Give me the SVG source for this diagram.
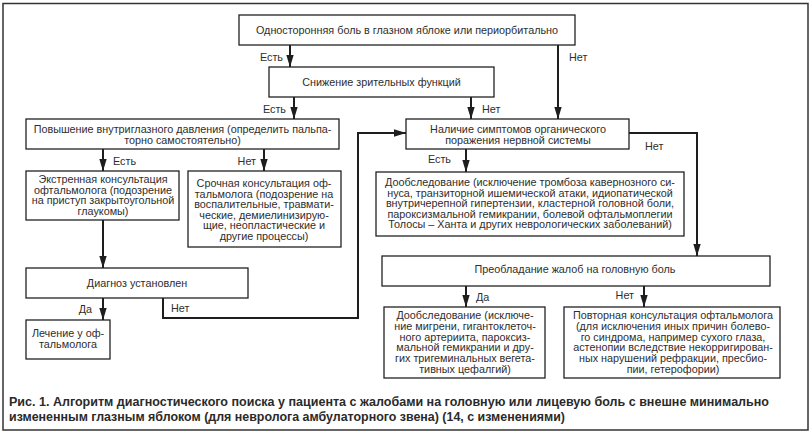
<svg xmlns="http://www.w3.org/2000/svg" width="811" height="434" viewBox="0 0 811 434">
<defs>
<style>
.bx{fill:#fff;stroke:#222;stroke-width:1.3}
.t{font-family:"Liberation Sans",Arial,sans-serif;font-size:10.8px;fill:#2e2e2e;text-anchor:middle}
.l{font-family:"Liberation Sans",Arial,sans-serif;font-size:10.8px;fill:#2e2e2e}
.e{text-anchor:end}
.c{fill:none;stroke:#1e1e1e;stroke-width:2}
.cap{font-family:"Liberation Sans",Arial,sans-serif;font-size:12.5px;font-weight:bold;fill:#2a2a2a}
</style>
<marker id="ah" markerUnits="userSpaceOnUse" markerWidth="12" markerHeight="8" refX="12" refY="4" orient="auto">
<path d="M0,0.3 L12,4 L0,7.7 z" fill="#1e1e1e"/>
</marker>
</defs>
<rect width="811" height="434" fill="#fff"/>
<rect x="3" y="3.5" width="805" height="426.5" fill="none" stroke="#333" stroke-width="1.5"/>

<g id="connectors">
<path class="c" d="M290,45 V67" marker-end="url(#ah)"/>
<path class="c" d="M558,45 V119" marker-end="url(#ah)"/>
<path class="c" d="M294,97 V119" marker-end="url(#ah)"/>
<path class="c" d="M471,97 V119" marker-end="url(#ah)"/>
<path class="c" d="M103,149 V171" marker-end="url(#ah)"/>
<path class="c" d="M264,149 V171" marker-end="url(#ah)"/>
<path class="c" d="M103,220 V268" marker-end="url(#ah)"/>
<path class="c" d="M103,298 V320" marker-end="url(#ah)"/>
<path class="c" d="M163,298 V318 H358 V133 H406" marker-end="url(#ah)"/>
<path class="c" d="M466,149 V172" marker-end="url(#ah)"/>
<path class="c" d="M629,133 H697 V256" marker-end="url(#ah)"/>
<path class="c" d="M466,286 V307" marker-end="url(#ah)"/>
<path class="c" d="M644,286 V307" marker-end="url(#ah)"/>
<text class="l e" x="283" y="61">Есть</text>
<text class="l" x="569" y="61">Нет</text>
<text class="l e" x="286" y="113">Есть</text>
<text class="l" x="482" y="113">Нет</text>
<text class="l" x="113" y="165">Есть</text>
<text class="l e" x="256" y="165">Нет</text>
<text class="l e" x="451" y="163">Есть</text>
<text class="l" x="645" y="150">Нет</text>
<text class="l e" x="92" y="313">Да</text>
<text class="l" x="171" y="312">Нет</text>
<text class="l" x="476" y="301">Да</text>
<text class="l e" x="634" y="299">Нет</text>
</g>

<g id="n1">
<rect class="bx" x="239" y="15" width="336" height="30"/>
<text class="t" x="407" y="34">Односторонняя боль в глазном яблоке или периорбитально</text>
</g>
<g id="n2">
<rect class="bx" x="269" y="67" width="225" height="30"/>
<text class="t" x="381.5" y="86">Снижение зрительных функций</text>
</g>
<g id="n3">
<rect class="bx" x="26" y="119" width="313" height="30"/>
<text class="t" x="182.5" y="133">Повышение внутриглазного давления (определить пальпа-</text>
<text class="t" x="182.5" y="143.5">торно самостоятельно)</text>
</g>
<g id="n4">
<rect class="bx" x="406" y="119" width="223" height="30"/>
<text class="t" x="518" y="133">Наличие симптомов органического</text>
<text class="t" x="518" y="143.5">поражения нервной системы</text>
</g>
<g id="n5">
<rect class="bx" x="26" y="171" width="153" height="49"/>
<text class="t" x="103" y="183">Экстренная консультация</text>
<text class="t" x="103" y="193.7">офтальмолога (подозрение</text>
<text class="t" x="103" y="204.4">на приступ закрытоугольной</text>
<text class="t" x="103" y="215.1">глаукомы)</text>
</g>
<g id="n6">
<rect class="bx" x="188" y="171" width="153" height="76"/>
<text class="t" x="264" y="187">Срочная консультация оф-</text>
<text class="t" x="264" y="197.6">тальмолога (подозрение на</text>
<text class="t" x="264" y="208.2">воспалительные, травмати-</text>
<text class="t" x="264" y="218.8">ческие, демиелинизирую-</text>
<text class="t" x="264" y="229.4">щие, неопластические и</text>
<text class="t" x="264" y="240">другие процессы)</text>
</g>
<g id="n7">
<rect class="bx" x="26" y="268" width="222" height="30"/>
<text class="t" x="137" y="287">Диагноз установлен</text>
</g>
<g id="n8">
<rect class="bx" x="26" y="320" width="84" height="39"/>
<text class="t" x="68" y="337">Лечение у оф-</text>
<text class="t" x="68" y="348">тальмолога</text>
</g>
<g id="n9">
<rect class="bx" x="376" y="172" width="308" height="64"/>
<text class="t" x="530" y="186">Дообследование (исключение тромбоза кавернозного си-</text>
<text class="t" x="530" y="196.5">нуса, транзиторной ишемической атаки, идиопатической</text>
<text class="t" x="530" y="207">внутричерепной гипертензии, кластерной головной боли,</text>
<text class="t" x="530" y="217.5">пароксизмальной гемикрании, болевой офтальмоплегии</text>
<text class="t" x="530" y="228">Толосы – Ханта и других неврологических заболеваний)</text>
</g>
<g id="n10">
<rect class="bx" x="382" y="256" width="388" height="30"/>
<text class="t" x="575" y="273">Преобладание жалоб на головную боль</text>
</g>
<g id="n11">
<rect class="bx" x="384" y="307" width="161" height="71"/>
<text class="t" x="465" y="319">Дообследование (исключе-</text>
<text class="t" x="465" y="329.8">ние мигрени, гигантоклеточ-</text>
<text class="t" x="465" y="340.6">ного артериита, пароксиз-</text>
<text class="t" x="465" y="351.4">мальной гемикрании и дру-</text>
<text class="t" x="465" y="362.2">гих тригеминальных вегета-</text>
<text class="t" x="465" y="373">тивных цефалгий)</text>
</g>
<g id="n12">
<rect class="bx" x="564" y="307" width="216" height="71"/>
<text class="t" x="673" y="319">Повторная консультация офтальмолога</text>
<text class="t" x="673" y="329.8">(для исключения иных причин болево-</text>
<text class="t" x="673" y="340.6">го синдрома, например сухого глаза,</text>
<text class="t" x="673" y="351.4">астенопии вследствие некорригирован-</text>
<text class="t" x="673" y="362.2">ных нарушений рефракции, пресбио-</text>
<text class="t" x="673" y="373">пии, гетерофории)</text>
</g>

<text class="cap" x="9" y="405.5" textLength="760" lengthAdjust="spacingAndGlyphs">Рис. 1. Алгоритм диагностического поиска у пациента с жалобами на головную или лицевую боль с внешне минимально</text>
<text class="cap" x="9" y="421" textLength="556" lengthAdjust="spacingAndGlyphs">измененным глазным яблоком (для невролога амбулаторного звена) (14, с изменениями)</text>
</svg>
